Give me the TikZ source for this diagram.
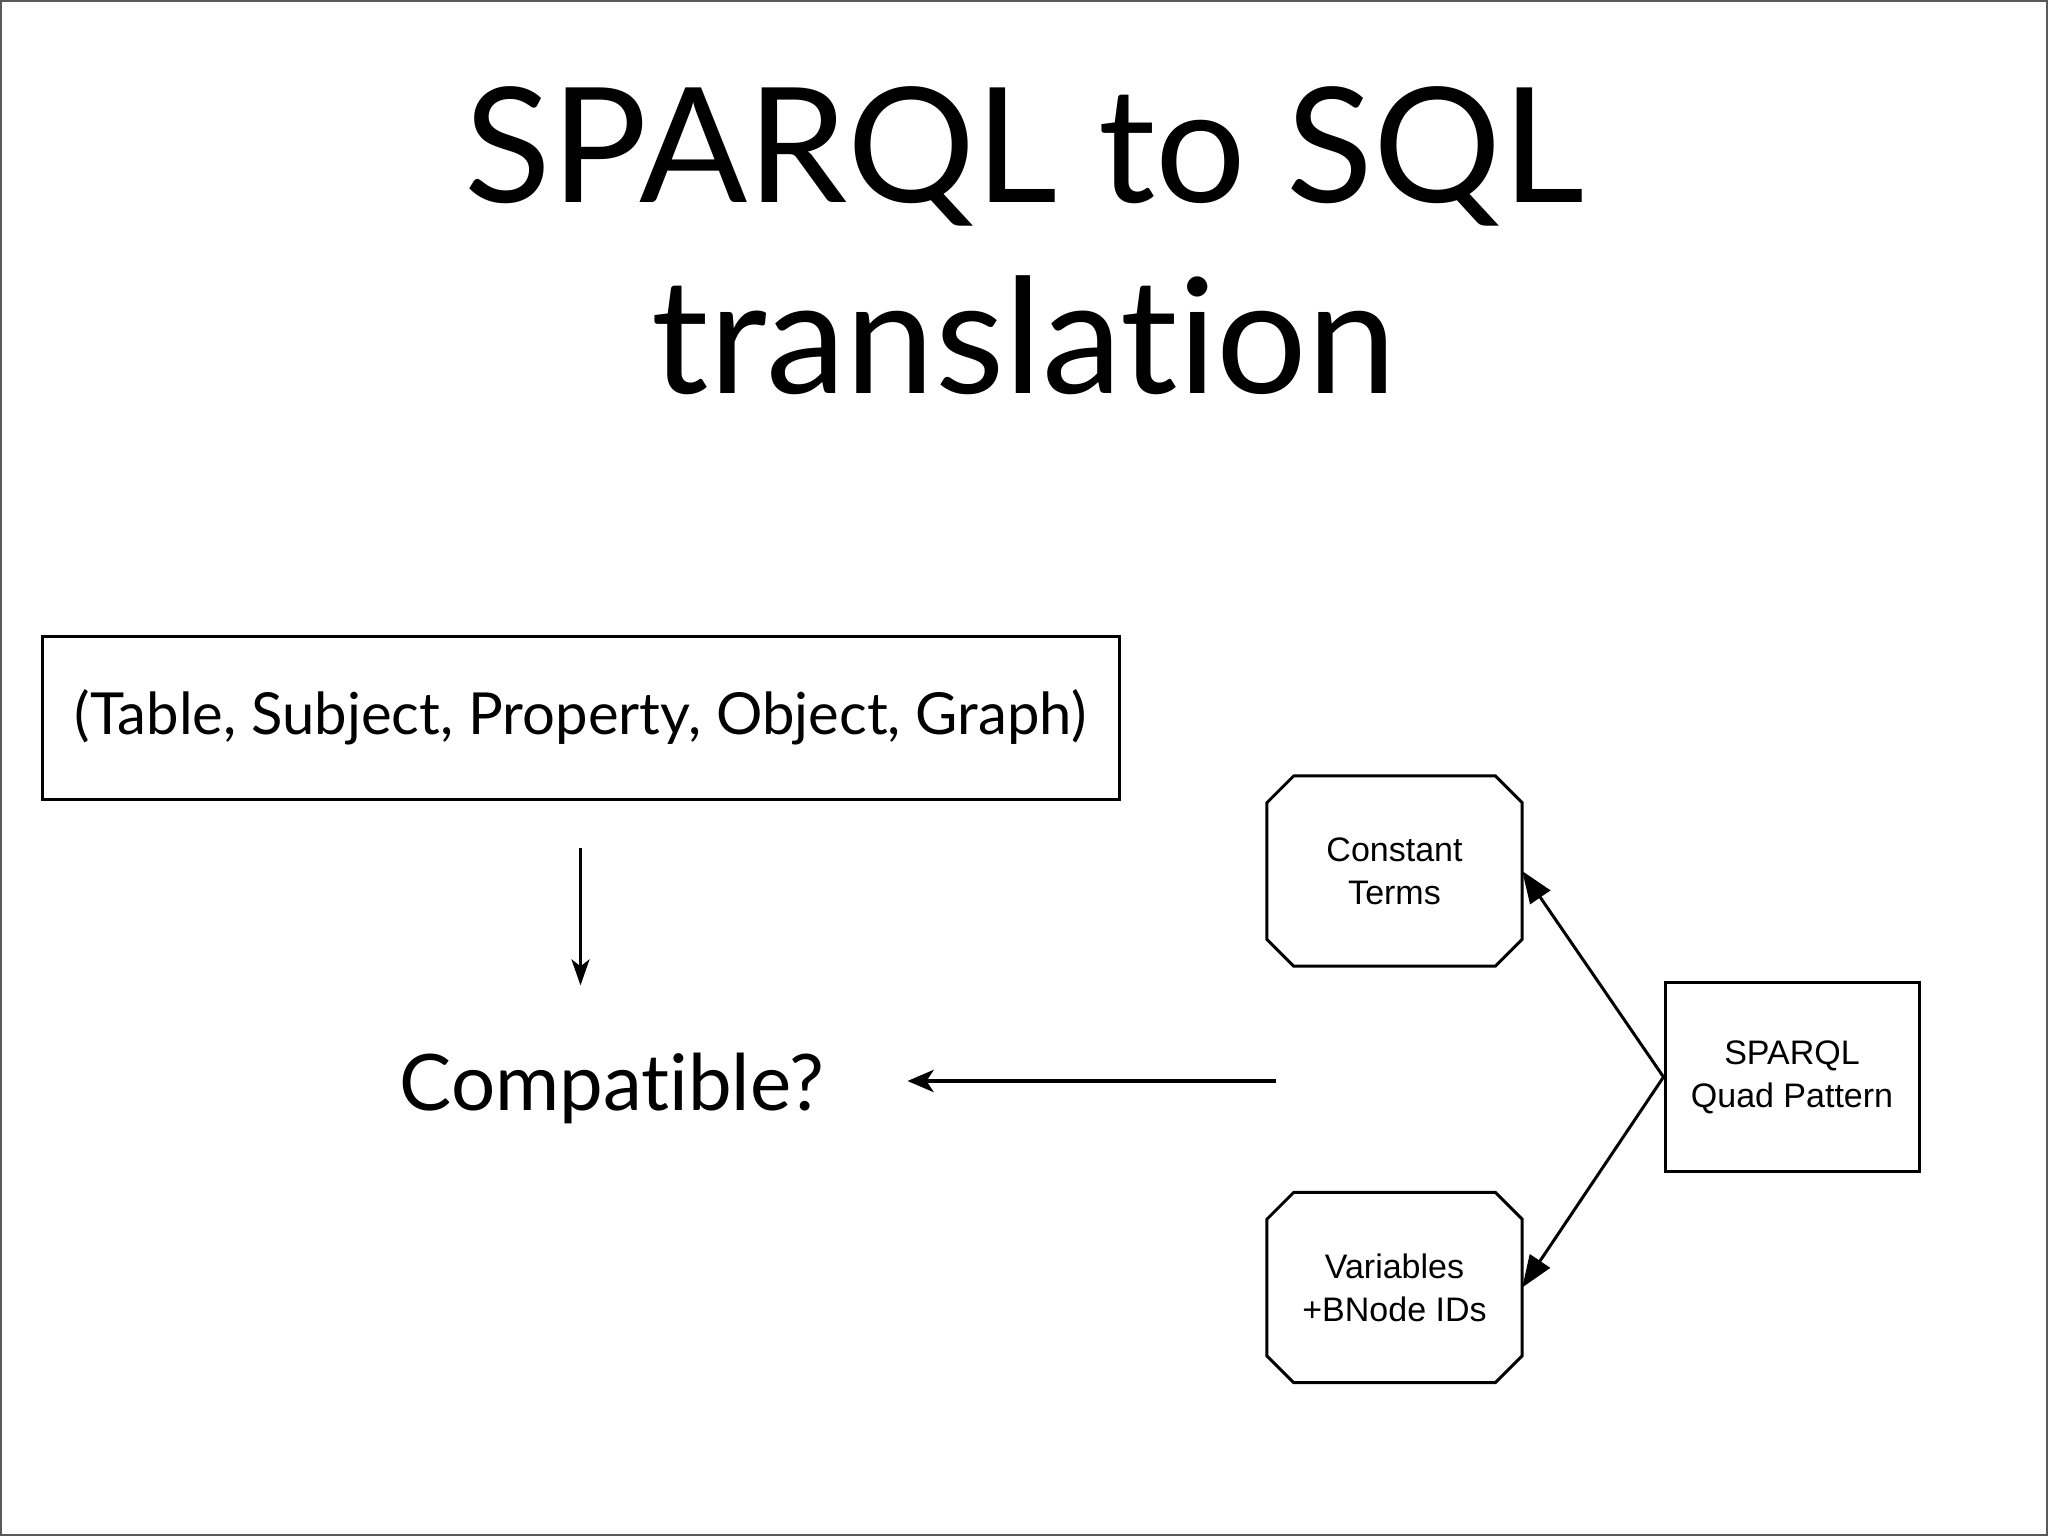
\documentclass[tikz,border=0pt]{standalone}
\usepackage{fontspec}
\setmainfont{Lato}[Ligatures={NoCommon}]
\newfontfamily\helv{Liberation Sans}
\usetikzlibrary{arrows.meta,calc}
\tikzset{
  boxline/.style={draw=black, line width=3pt},
  tablebox/.style={boxline, rectangle, inner sep=0pt, minimum width=1077pt, minimum height=163pt,
    font=\fontsize{58}{70}\selectfont},
  octnode/.style={rectangle, inner sep=0pt, minimum width=255pt, minimum height=190pt,
    align=center, font=\helv\fontsize{34}{43}\selectfont},
  quadbox/.style={boxline, rectangle, inner sep=0pt, minimum width=254pt, minimum height=189pt,
    align=center, font=\helv\fontsize{34}{43}\selectfont},
  titletext/.style={anchor=base, inner sep=0pt, font=\fontsize{160}{192}\selectfont},
  thinarrow/.style={line width=3pt, -{Stealth[length=26pt, width=18pt, inset=7pt]}},
  thickarrow/.style={line width=4.5pt, -{Stealth[length=26pt, width=22pt, inset=7pt]}},
  triarrow/.style={line width=3pt, -{Triangle[length=32pt, width=24pt]}}
}
\newcommand\myocto[1]{%
  \draw[boxline]
    ($(#1.north west)+(27pt,0pt)$) -- ($(#1.north east)+(-27pt,0pt)$) --
    ($(#1.north east)+(0pt,-27pt)$) -- ($(#1.south east)+(0pt,27pt)$) --
    ($(#1.south east)+(-27pt,0pt)$) -- ($(#1.south west)+(27pt,0pt)$) --
    ($(#1.south west)+(0pt,27pt)$) -- ($(#1.north west)+(0pt,-27pt)$) -- cycle;}
\begin{document}
\begin{tikzpicture}[x=1pt, y=-1pt]
\useasboundingbox (0,0) rectangle (2048,1536);
\draw[draw=black!65, line width=2pt] (1,1) rectangle (2047,1535);

\node[titletext] (t1) at (1024,202) {SPARQL to SQL};
\node[titletext] (t2) at (1024,393) {translation};

\node[tablebox] (tbl) at (580.5,717.5) {(Table, Subject, Property, Object, Graph)};
\node[anchor=base, inner sep=0pt, font=\fontsize{78}{94}\selectfont] (comp) at (612,1110) {Compatible?};

\node[octnode] (c1) at (1394.5,871) {Constant\\Terms};
\myocto{c1}
\node[octnode] (c2) at (1394.5,1287.5) {Variables\\+BNode IDs};
\myocto{c2}
\node[quadbox] (sp) at (1792,1077) {SPARQL\\Quad Pattern};

\coordinate (src) at (1276,1081);

\draw[thinarrow, shorten <=47pt, shorten >=67pt] (tbl.south) -- (tbl.south |- comp.north);
\draw[thickarrow, shorten >=83pt] (src) -- (comp.east |- src);
\draw[triarrow] (sp.west) -- (c1.east);
\draw[triarrow] (sp.west) -- (c2.east);
\end{tikzpicture}
\end{document}
